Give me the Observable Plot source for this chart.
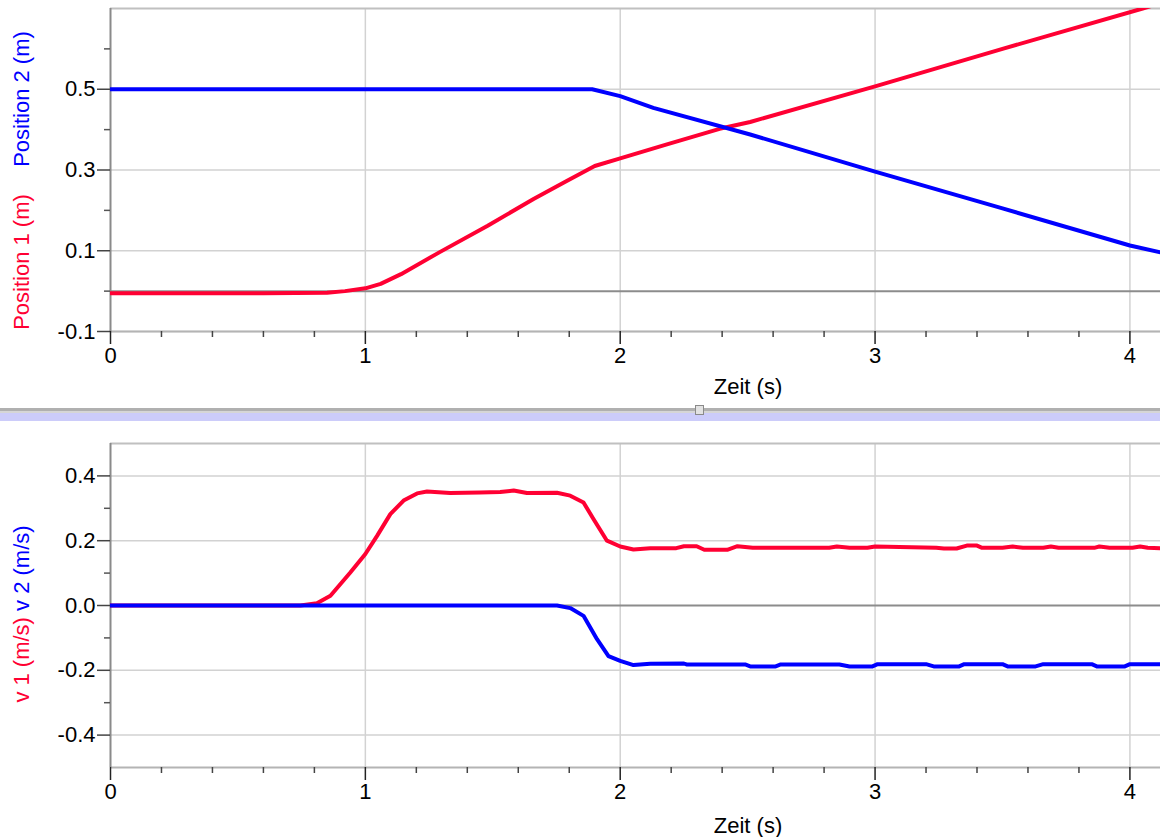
<!DOCTYPE html>
<html>
<head>
<meta charset="utf-8">
<script src="https://cdn.jsdelivr.net/npm/d3@7"></script>
<script src="https://cdn.jsdelivr.net/npm/@observablehq/plot@0.6"></script>
<style>
  html, body { margin: 0; padding: 0; background: #fff; }
  #wrap { position: relative; width: 1160px; height: 837px; overflow: hidden; font-family: "Liberation Sans", Arial, sans-serif; }
  #top { position: absolute; left: 0; top: 0; }
  #bottom { position: absolute; left: 0; top: 421px; }
  .sep { position: absolute; left: 0; width: 1160px; }
</style>
</head>
<body>
<div id="wrap">
  <div id="top"></div>
  <div class="sep" style="top:408px;height:3px;background:#b0b0b0"></div>
  <div class="sep" style="top:411px;height:2px;background:#d6d6d6"></div>
  <div class="sep" style="top:413px;height:8px;background:#ccccfa"></div>
  <div style="position:absolute;left:695px;top:405px;width:7px;height:8px;background:#e2e2e2;border:1px solid #8a8a8a"></div>
  <div id="bottom"></div>
</div>
<script>
// ---------- data (time in s) ----------
const position1 = [ // Position 1 (m), red
  [0, -0.005], [0.3, -0.005], [0.6, -0.005], [0.85, -0.004], [0.92, 0.0], [1.0, 0.007],
  [1.06, 0.018], [1.14, 0.042], [1.29, 0.096], [1.48, 0.162], [1.66, 0.228], [1.79, 0.273],
  [1.9, 0.31], [2.0, 0.329], [2.18, 0.363], [2.39, 0.402], [2.51, 0.419], [3.0, 0.507],
  [3.5, 0.600], [4.05, 0.700], [4.12, 0.713]
];
const position2 = [ // Position 2 (m), blue
  [0, 0.5], [1.0, 0.5], [1.89, 0.5], [2.0, 0.483], [2.13, 0.454], [2.51, 0.388],
  [3.0, 0.296], [3.5, 0.205], [4.0, 0.113], [4.12, 0.096]
];
const velocity1 = [ // v 1 (m/s), red
  [0, 0], [0.3, 0], [0.6, 0], [0.745, 0], [0.81, 0.007], [0.863, 0.03], [0.941, 0.102],
  [1.0, 0.159], [1.046, 0.215], [1.098, 0.282], [1.15, 0.324], [1.203, 0.346], [1.242, 0.352],
  [1.333, 0.347], [1.45, 0.349], [1.529, 0.35], [1.582, 0.355], [1.634, 0.347], [1.752, 0.348],
  [1.804, 0.339], [1.856, 0.318], [1.895, 0.267], [1.948, 0.2], [2.0, 0.182], [2.052, 0.173],
  [2.118, 0.177], [2.22, 0.177], [2.25, 0.183], [2.30, 0.183], [2.33, 0.172], [2.42, 0.172],
  [2.46, 0.183], [2.52, 0.178], [2.82, 0.178], [2.85, 0.182], [2.9, 0.178], [2.97, 0.178],
  [3.0, 0.182], [3.24, 0.178], [3.27, 0.176], [3.32, 0.176], [3.36, 0.185], [3.40, 0.185],
  [3.42, 0.178], [3.5, 0.178], [3.54, 0.182], [3.58, 0.178], [3.66, 0.178], [3.69, 0.182],
  [3.72, 0.178], [3.86, 0.178], [3.88, 0.182], [3.92, 0.178], [4.01, 0.178], [4.04, 0.182],
  [4.07, 0.178], [4.12, 0.177]
];
const velocity2 = [ // v 2 (m/s), blue
  [0, 0], [1.0, 0], [1.752, 0], [1.804, -0.008], [1.856, -0.032], [1.909, -0.104],
  [1.954, -0.156], [2.0, -0.171], [2.052, -0.184], [2.118, -0.180], [2.25, -0.179],
  [2.26, -0.182], [2.49, -0.182], [2.51, -0.188], [2.61, -0.188], [2.63, -0.182],
  [2.86, -0.182], [2.9, -0.188], [2.99, -0.188], [3.01, -0.181], [3.2, -0.181],
  [3.23, -0.188], [3.33, -0.188], [3.35, -0.181], [3.5, -0.181], [3.52, -0.188],
  [3.63, -0.188], [3.66, -0.181], [3.85, -0.181], [3.87, -0.188], [3.98, -0.188],
  [4.0, -0.181], [4.12, -0.181]
];

// ---------- axes / ticks ----------
const xDomain = [0, 4.12];
const xMajor = [0, 1, 2, 3, 4];
const xMinor = [0.2, 0.4, 0.6, 0.8, 1.2, 1.4, 1.6, 1.8, 2.2, 2.4, 2.6, 2.8, 3.2, 3.4, 3.6, 3.8];
const xGrid = [1, 2, 3, 4];

const posDomain = [-0.1, 0.7];
const posMajor = [-0.1, 0.1, 0.3, 0.5];
const posMinor = [0.0, 0.2, 0.4, 0.6];

const velDomain = [-0.5, 0.5];
const velMajor = [-0.4, -0.2, 0.0, 0.2, 0.4];
const velMinor = [-0.3, -0.1, 0.1, 0.3];

const xLabel = "Zeit (s)";
const RED = "#ff0033";
const BLUE = "#0000ff";
const FONT = "'Liberation Sans', Arial, sans-serif";

const fmt1 = d => d.toFixed(1);

function panel({height, marginTop, marginBottom, yDomain, yMajor, yMinor, series}) {
  const yGrid = yMajor.filter(d => d !== 0);
  return Plot.plot({
    width: 1160,
    height,
    marginTop,
    marginBottom,
    marginLeft: 110,
    marginRight: 0,
    style: {fontFamily: FONT, fontSize: "22px", color: "#000", background: "#fff", overflow: "visible"},
    x: {domain: xDomain},
    y: {domain: yDomain},
    marks: [
      Plot.gridX(xGrid, {stroke: "#d2d2d2", strokeOpacity: 1, strokeWidth: 1.5}),
      Plot.gridY(yGrid, {stroke: "#d2d2d2", strokeOpacity: 1, strokeWidth: 1.5}),
      Plot.ruleY([0], {stroke: "#8c8c8c", strokeWidth: 2}),
      Plot.ruleY([yDomain[1]], {stroke: "#c0c0c0", strokeWidth: 2}),
      Plot.ruleY([yDomain[0]], {stroke: "#b4b4b4", strokeWidth: 2}),
      Plot.ruleX([0], {stroke: "#8a8a8a", strokeWidth: 2}),
      Plot.axisY(yMajor, {tickSize: 13, tickPadding: 2, tickFormat: fmt1, label: null, stroke: "#444", strokeWidth: 1.5, fill: "#000"}),
      Plot.axisY(yMinor, {tickSize: 6, tickFormat: () => "", label: null, stroke: "#555", strokeWidth: 1.5}),
      Plot.axisX(xMajor, {tickSize: 13, tickPadding: 3, tickFormat: d => String(d), label: null, stroke: "#222", strokeWidth: 1.5, fill: "#000"}),
      Plot.axisX(xMinor, {tickSize: 6, tickFormat: () => "", label: null, stroke: "#444", strokeWidth: 1.5}),
      ...series.map(s => Plot.line(s.data, {x: d => d[0], y: d => d[1], stroke: s.color, strokeWidth: 4, strokeLinejoin: "round", clip: true}))
    ]
  });
}

// top panel: positions
const topPlot = panel({
  height: 405, marginTop: 8, marginBottom: 74,
  yDomain: posDomain, yMajor: posMajor, yMinor: posMinor,
  series: [{data: position1, color: RED}, {data: position2, color: BLUE}]
});
document.getElementById("top").appendChild(topPlot);

// bottom panel: velocities
const botPlot = panel({
  height: 416, marginTop: 22, marginBottom: 70,
  yDomain: velDomain, yMajor: velMajor, yMinor: velMinor,
  series: [{data: velocity1, color: RED}, {data: velocity2, color: BLUE}]
});
document.getElementById("bottom").appendChild(botPlot);

// axis titles
function addText(svgEl, x, y, rotate, parts) {
  const t = d3.select(svgEl).append("text")
    .attr("transform", `translate(${x},${y})` + (rotate ? " rotate(-90)" : ""))
    .attr("text-anchor", "middle")
    .attr("dominant-baseline", "central")
    .attr("font-family", FONT)
    .attr("font-size", 22);
  parts.forEach(p => t.append("tspan").attr("fill", p.color).text(p.text));
}
addText(topPlot, 748, 386, false, [{text: xLabel, color: "#000"}]);
addText(botPlot, 748, 404, false, [{text: xLabel, color: "#000"}]);
addText(topPlot, 21, 262, true, [{text: "Position 1 (m)", color: RED}]);
addText(topPlot, 21, 99, true, [{text: "Position 2 (m)", color: BLUE}]);
addText(botPlot, 21, 193, true, [{text: "v 1 (m/s)", color: RED}, {text: " v 2 (m/s)", color: BLUE}]);
</script>
</body>
</html>
